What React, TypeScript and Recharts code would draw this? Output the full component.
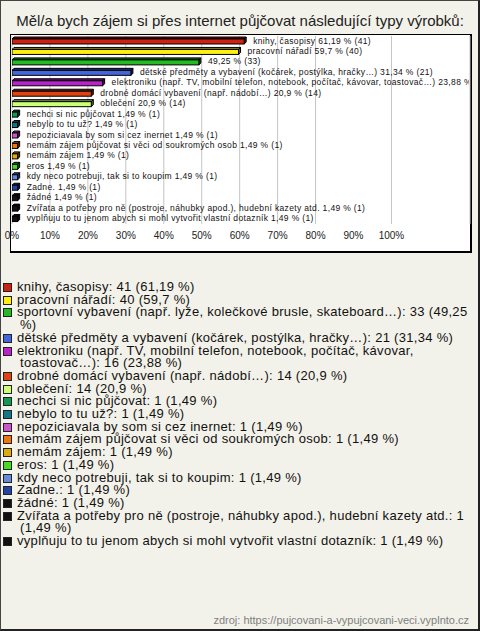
import React from 'react'
import { BarChart, Bar, XAxis, YAxis, CartesianGrid, Cell, LabelList } from 'recharts'

const FONT = '"Liberation Sans", Arial, sans-serif'

const names = [
  'knihy, časopisy',
  'pracovní nářadí',
  'sportovní vybavení (např. lyže, kolečkové brusle, skateboard…)',
  'dětské předměty a vybavení (kočárek, postýlka, hračky…)',
  'elektroniku (např. TV, mobilní telefon, notebook, počítač, kávovar, toastovač…)',
  'drobné domácí vybavení (např. nádobí…)',
  'oblečení',
  'nechci si nic půjčovat',
  'nebylo to tu už?',
  'nepoziciavala by som si cez inernet',
  'nemám zájem půjčovat si věci od soukromých osob',
  'nemám zájem',
  'eros',
  'kdy neco potrebuji, tak si to koupim',
  'Zadne.',
  'žádné',
  'Zvířata a potřeby pro ně (postroje, náhubky apod.), hudební kazety atd.',
  'vyplňuju to tu jenom abych si mohl vytvořit vlastní dotazník',
]

const counts = [41, 40, 33, 21, 16, 14, 14, 1, 1, 1, 1, 1, 1, 1, 1, 1, 1, 1]
const percents = [61.19, 59.7, 49.25, 31.34, 23.88, 20.9, 20.9, 1.49, 1.49, 1.49, 1.49, 1.49, 1.49, 1.49, 1.49, 1.49, 1.49, 1.49]
// bar 3 has no name next to it in the original
const showNameOnBar = [true, true, false, true, true, true, true, true, true, true, true, true, true, true, true, true, true, true]

const colors = [
  '#cc2211', '#ffee11', '#22bb22', '#4466dd', '#bb22cc', '#dd4411', '#ccff77', '#119955', '#117788',
  '#cc55cc', '#ee7711', '#ddaa11', '#44dd22', '#6688dd', '#2244aa', '#111111', '#111111', '#111111',
]

const ticks = [0, 10, 20, 30, 40, 50, 60, 70, 80, 90, 100]

const fmt = (v: number) => String(v).replace('.', ',')

const data = names.map((name, i) => ({
  name,
  value: percents[i],
  label: (showNameOnBar[i] ? name + ' ' : '') + fmt(percents[i]) + ' % (' + counts[i] + ')',
}))

function darker(hex: string, f = 0.55) {
  const n = parseInt(hex.slice(1), 16)
  const r = Math.round(((n >> 16) & 255) * f)
  const g = Math.round(((n >> 8) & 255) * f)
  const b = Math.round((n & 255) * f)
  return `rgb(${r},${g},${b})`
}

function Bar3D(props: any) {
  const { x, y, width, height, fill } = props
  const d = 2
  const top = `${x},${y} ${x + d},${y - d} ${x + width + d},${y - d} ${x + width},${y}`
  const side = `${x + width},${y} ${x + width + d},${y - d} ${x + width + d},${y + height - d} ${x + width},${y + height}`
  return (
    <g>
      <polygon points={top} fill={darker(fill)} stroke="#000" strokeWidth={1} />
      <polygon points={side} fill={darker(fill, 0.4)} stroke="#000" strokeWidth={1} />
      <rect x={x} y={y} width={width} height={height} fill={fill} stroke="#000" strokeWidth={1} />
    </g>
  )
}

function BarText(props: any) {
  const { x, y, width, height, value, index } = props
  const id = 'clipLbl' + index
  return (
    <g>
      <defs>
        <clipPath id={id}>
          <rect x={12} y={30} width={457} height={230} />
        </clipPath>
      </defs>
      <text
        x={x + width + 9}
        y={y + height / 2 - 1}
        dominantBaseline="central"
        fontSize={8.5}
        letterSpacing={0.35}
        fontFamily={FONT}
        fill="#111"
        clipPath={`url(#${id})`}
      >
        {value}
      </text>
    </g>
  )
}

export default function App() {
  return (
    <div
      style={{
        position: 'relative',
        width: 480,
        height: 631,
        boxSizing: 'border-box',
        background: '#f3f2ea',
        borderLeft: '1px solid #444',
        borderTop: '1px solid #444',
        borderRight: '2px solid #222',
        borderBottom: '2px solid #222',
        fontFamily: FONT,
        overflow: 'hidden',
      }}
    >
      <style>{'body{margin:0}'}</style>
      <div
        style={{
          position: 'absolute',
          left: -1,
          top: 10,
          width: 480,
          textAlign: 'center',
          fontSize: 15,
          color: '#222',
          lineHeight: '20px',
        }}
      >
        Měl/a bych zájem si přes internet půjčovat následující typy výrobků:
      </div>
      <div
        style={{
          position: 'absolute',
          left: 9,
          top: 33,
          width: 462,
          height: 219,
          boxSizing: 'border-box',
          background: '#fff',
          borderLeft: '1px solid #000',
          borderTop: '1px solid #000',
          borderRight: '2px solid #000',
          borderBottom: '2px solid #000',
        }}
      />
      <div style={{ position: 'absolute', left: -1, top: -1 }}>
        <BarChart
          width={480}
          height={280}
          data={data}
          layout="vertical"
          margin={{ top: 36, right: 10, bottom: 28, left: 12 }}
          barSize={5}
        >
          <CartesianGrid horizontal={false} stroke="#c4c4c4" />
          <XAxis
            type="number"
            domain={[0, 120.7]}
            ticks={ticks}
            allowDataOverflow
            tickFormatter={(v: number) => v + '%'}
            axisLine={false}
            tickLine={false}
            height={28}
            tick={{ fontSize: 10, fill: '#222', fontFamily: FONT }}
          />
          <YAxis type="category" dataKey="name" hide width={0} />
          <Bar dataKey="value" shape={<Bar3D />} isAnimationActive={false}>
            {data.map((_, i) => (
              <Cell key={i} fill={colors[i]} />
            ))}
            <LabelList dataKey="label" content={<BarText />} />
          </Bar>
        </BarChart>
      </div>
      <div
        style={{
          position: 'absolute',
          left: -1,
          top: 280,
          width: 470,
          fontSize: 13,
          letterSpacing: 0.3,
          lineHeight: '12.7px',
          color: '#111',
        }}
      >
        {names.map((n, i) => (
          <div key={i} style={{ position: 'relative', paddingLeft: 20, textIndent: -3 }}>
            <span
              style={{
                position: 'absolute',
                left: 3,
                top: 2,
                width: 9,
                height: 9,
                boxSizing: 'border-box',
                border: '1px solid #222',
                background: colors[i],
              }}
            />
            {n}: {counts[i]} ({fmt(percents[i])} %)
          </div>
        ))}
      </div>
      <div
        style={{
          position: 'absolute',
          right: 9,
          top: 612,
          fontSize: 11,
          color: '#808080',
          lineHeight: '14px',
        }}
      >
        zdroj: https://pujcovani-a-vypujcovani-veci.vyplnto.cz
      </div>
    </div>
  )
}
